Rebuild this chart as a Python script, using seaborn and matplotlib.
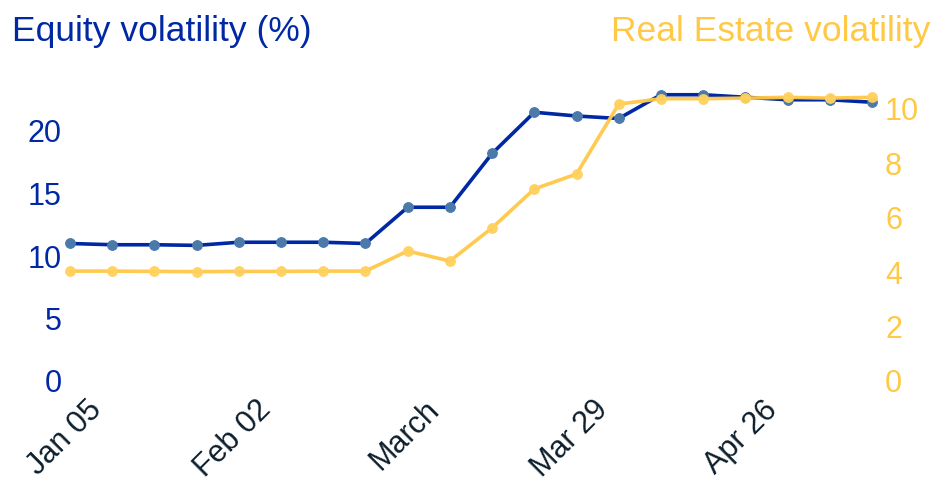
import pandas as pd
import matplotlib.pyplot as plt
import seaborn as sns

# weekly observations
weeks = ["Jan 05", "Jan 12", "Jan 19", "Jan 26", "Feb 02", "Feb 09", "Feb 16", "Feb 23",
         "Mar 01", "Mar 08", "Mar 15", "Mar 22", "Mar 29", "Apr 05", "Apr 12", "Apr 19",
         "Apr 26", "May 03", "May 10", "May 17"]
equity_vol = [11.0, 10.9, 10.9, 10.85, 11.1, 11.1, 11.1, 11.0,
              13.9, 13.9, 18.2, 21.5, 21.2, 21.0, 22.9, 22.9,
              22.7, 22.5, 22.5, 22.3]
real_estate_vol = [4.04, 4.04, 4.03, 4.02, 4.03, 4.03, 4.04, 4.04,
                   4.78, 4.41, 5.63, 7.06, 7.61, 10.18, 10.38, 10.38,
                   10.4, 10.43, 10.4, 10.43]
tick_weeks = ["Jan 05", "Feb 02", "Mar 01", "Mar 29", "Apr 26"]
tick_labels = ["Jan 05", "Feb 02", "March", "Mar 29", "Apr 26"]
left_ticks = [0, 5, 10, 15, 20]
right_ticks = [0, 2, 4, 6, 8, 10]

BLUE = "#0028A5"
BLUE_MK = "#4B79AA"
YELLOW = "#FFC845"
YELLOW_MK = "#FFD15E"
DARK = "#0C1E2C"

sns.set_style("white")
plt.rcParams["font.family"] = ["Liberation Sans", "DejaVu Sans"]

df = pd.DataFrame({"week": range(len(weeks)), "equity": equity_vol, "re": real_estate_vol})

fig = plt.figure(figsize=(9.46, 4.98), dpi=100)
ax = fig.add_axes([66 / 946, 1 - 381 / 498, 810 / 946, 300 / 498])
ax2 = ax.twinx()

sns.lineplot(data=df, x="week", y="equity", ax=ax, color=BLUE, linewidth=2.6,
             marker="o", markersize=7, markerfacecolor=BLUE_MK, markeredgecolor=BLUE_MK,
             clip_on=False)
sns.lineplot(data=df, x="week", y="re", ax=ax2, color=YELLOW, linewidth=2.6,
             marker="o", markersize=7, markerfacecolor=YELLOW_MK, markeredgecolor=YELLOW_MK,
             alpha=0.95, clip_on=False)

m = 4 / 42.2
ax.set_xlim(-m, len(weeks) - 1 + m)
ax.set_ylim(0, 24)
ax2.set_ylim(0, 300 / 27.2)

ax.set_yticks(left_ticks)
ax.set_yticklabels([str(t) for t in left_ticks], color=BLUE, fontsize=22)
ax2.set_yticks(right_ticks)
ax2.set_yticklabels([str(t) for t in right_ticks], color=YELLOW, fontsize=22)

# x labels sit a bit to the right of their tick, drawn as annotations
ax.set_xticks([])
for w, lab in zip(tick_weeks, tick_labels):
    ax.annotate(lab, xy=(weeks.index(w), 0), xycoords=ax.get_xaxis_transform(),
                xytext=(12, -10), textcoords="offset points",
                rotation=45, rotation_mode="anchor", ha="right", va="top",
                color=DARK, fontsize=22, annotation_clip=False)

ax.tick_params(axis="y", length=0, pad=3)
ax2.tick_params(axis="y", length=0, pad=6.5)

ax.set_xlabel("")
ax.set_ylabel("")
ax2.set_ylabel("")
for a in (ax, ax2):
    for s in a.spines.values():
        s.set_visible(False)
    a.grid(False)

fig.text(12 / 946, 1 - 41 / 498, "Equity volatility (%)", color=BLUE, fontsize=25.5,
         ha="left", va="baseline")
fig.text(930 / 946, 1 - 41 / 498, "Real Estate volatility", color=YELLOW, fontsize=25.5,
         ha="right", va="baseline")

fig.savefig("out.png", dpi=100)
